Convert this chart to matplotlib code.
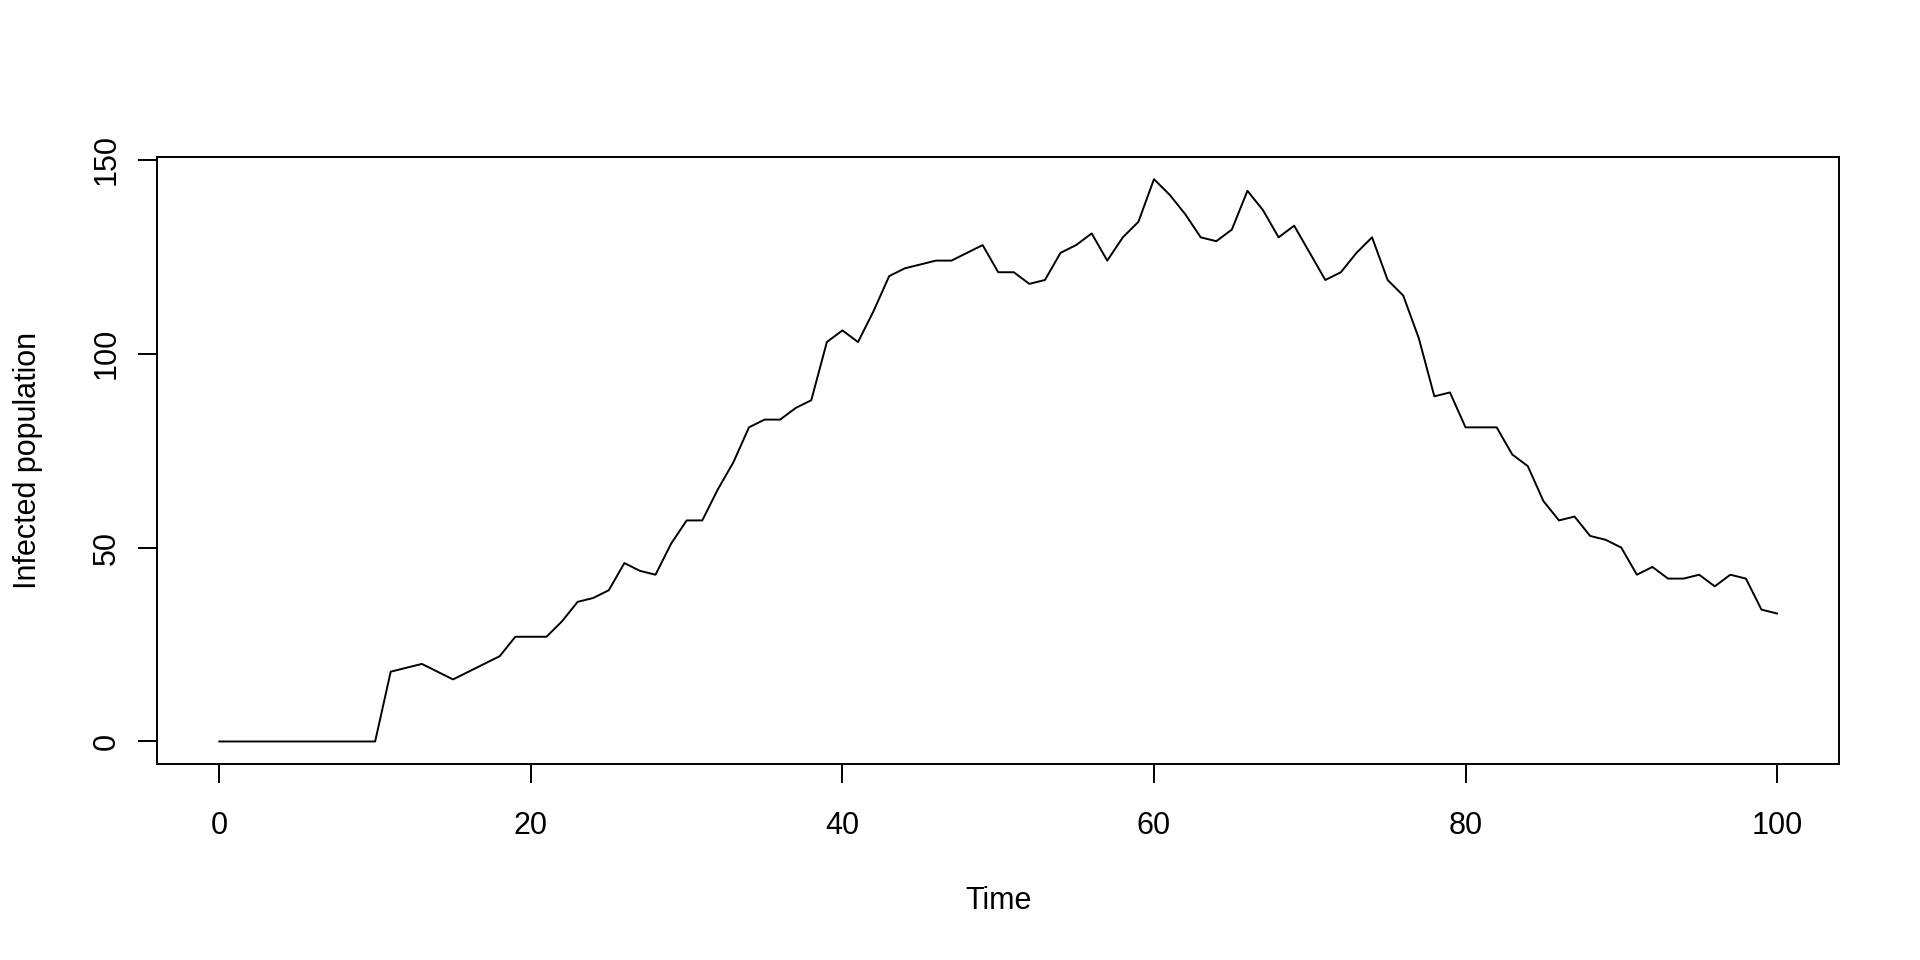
import matplotlib
matplotlib.use("Agg")
from matplotlib import pyplot as plt

plt.rcParams["font.family"] = ["Liberation Sans", "DejaVu Sans"]

# infected count per time step
time = list(range(0, 101))
infected = [
    0, 0, 0, 0, 0, 0, 0, 0, 0, 0,
    0, 18, 19, 20, 18, 16, 18, 20, 22, 27,
    27, 27, 31, 36, 37, 39, 46, 44, 43, 51,
    57, 57, 65, 72, 81, 83, 83, 86, 88, 103,
    106, 103, 111, 120, 122, 123, 124, 124, 126, 128,
    121, 121, 118, 119, 126, 128, 131, 124, 130, 134,
    145, 141, 136, 130, 129, 132, 142, 137, 130, 133,
    126, 119, 121, 126, 130, 119, 115, 104, 89, 90,
    81, 81, 81, 74, 71, 62, 57, 58, 53, 52,
    50, 43, 45, 42, 42, 43, 40, 43, 42, 34,
    33,
]
x_ticks = [0, 20, 40, 60, 80, 100]
y_ticks = [0, 50, 100, 150]

fig = plt.figure(figsize=(19.2, 9.6), dpi=100)
ax = fig.add_axes([0.0818, 0.2042, 0.958 - 0.0818, 0.8368 - 0.2042])

ax.plot(time, infected, color="black", linewidth=1.4)

# R style 4% padding on both axes
ax.margins(x=0.04, y=0.04)

ax.set_xticks(x_ticks)
ax.set_yticks(y_ticks)
ax.tick_params(axis="both", direction="out", length=13.7, width=1.4,
               labelsize=22)
ax.tick_params(axis="x", pad=20)
ax.tick_params(axis="y", pad=12)
for lbl in ax.get_yticklabels():
    lbl.set_rotation(90)
    lbl.set_va("center")

for side in ax.spines.values():
    side.set_linewidth(1.4)

ax.set_xlabel("Time", fontsize=22)
ax.set_ylabel("Infected population", fontsize=22)
ax.xaxis.set_label_coords(0.5, -0.226)
ax.xaxis.label.set_va("center")
ax.yaxis.set_label_coords(-0.0767, 0.5)
ax.yaxis.label.set_va("center")

fig.savefig("out.png", dpi=100)
